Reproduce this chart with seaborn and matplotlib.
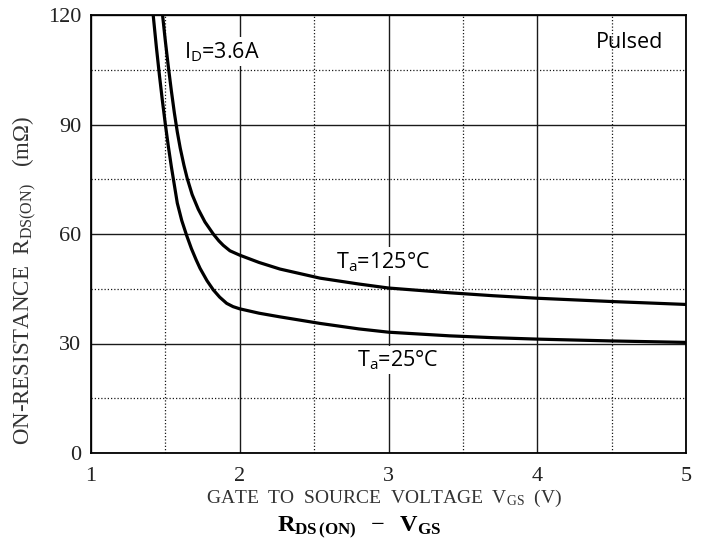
import matplotlib
matplotlib.use("Agg")
import matplotlib.pyplot as plt
import seaborn as sns
import pandas as pd

# Gate-source voltage (V) and on-resistance (mOhm), I_D = 3.6 A, pulsed
vgs_25 = [1.418, 1.440, 1.460, 1.480, 1.500, 1.520, 1.540, 1.560, 1.580, 1.610,
          1.643, 1.675, 1.706, 1.733, 1.780, 1.822, 1.865, 1.912, 1.955, 2.000,
          2.130, 2.270, 2.540, 2.800, 3.000, 3.410, 3.700, 4.000, 4.500, 5.000]
rds_25 = [120, 111, 103.5, 96.5, 90, 84, 78.5, 73.5, 68.5, 63.7,
          59.6, 56.0, 53.0, 50.6, 47.2, 44.7, 42.7, 41.0, 40.1, 39.5,
          38.3, 37.3, 35.5, 34.0, 33.1, 32.1, 31.6, 31.2, 30.7, 30.3]

vgs_125 = [1.481, 1.500, 1.520, 1.540, 1.560, 1.580, 1.600, 1.625, 1.647, 1.680,
           1.721, 1.766, 1.822, 1.860, 1.889, 1.934, 2.000, 2.130, 2.270, 2.540,
           2.800, 3.000, 3.410, 3.700, 4.000, 4.500, 5.000]
rds_125 = [120, 112.8, 105.8, 99.3, 93.3, 88, 83.5, 78.8, 75.2, 70.8,
           66.8, 63.3, 60, 58.1, 56.9, 55.4, 54.2, 52.2, 50.4, 47.9,
           46.3, 45.2, 43.9, 43.1, 42.4, 41.5, 40.7]

x_major = [1, 2, 3, 4, 5]
x_minor = [1.5, 2.5, 3.5, 4.5]
y_major = [0, 30, 60, 90, 120]
y_minor = [15, 45, 75, 105]

df = pd.concat([
    pd.DataFrame({"vgs": vgs_25, "rds": rds_25, "temp": "25"}),
    pd.DataFrame({"vgs": vgs_125, "rds": rds_125, "temp": "125"}),
])

sns.set_style("white")
plt.rcParams["font.family"] = ["Liberation Serif", "DejaVu Serif"]
plt.rcParams["mathtext.fontset"] = "custom"
plt.rcParams["mathtext.rm"] = "Liberation Serif"
plt.rcParams["mathtext.it"] = "Liberation Serif:italic"
plt.rcParams["mathtext.bf"] = "Liberation Serif:bold"
plt.rcParams["mathtext.sf"] = "Open Sans"

fig = plt.figure(figsize=(7.05, 5.44), dpi=100)
ax = fig.add_axes([91 / 705, 91 / 544, 595 / 705, 438 / 544])

sns.lineplot(data=df, x="vgs", y="rds", hue="temp", units="temp", estimator=None,
             palette=["black", "black"], linewidth=2.3, legend=False, ax=ax)

ax.set_xlim(1, 5)
ax.set_ylim(0, 120)
ax.set_xticks(x_major)
ax.set_xticks(x_minor, minor=True)
ax.set_yticks(y_major)
ax.set_yticks(y_minor, minor=True)
ax.set_xticklabels([str(v) for v in x_major])
ax.set_yticklabels([str(v) for v in y_major])
ax.tick_params(which="both", length=0)
ax.tick_params(axis="x", pad=10, labelsize=16, labelcolor="#222222")
ax.tick_params(axis="y", pad=7, labelsize=16, labelcolor="#222222")

ax.grid(which="major", color="#1a1a1a", linewidth=1.0, linestyle="-")
ax.grid(which="minor", color="#1a1a1a", linewidth=0.9, linestyle=(0, (1, 1.6)))
ax.set_axisbelow(True)
for sp in ax.spines.values():
    sp.set_color("black")
    sp.set_linewidth(1.3)

ax.set_xlabel(r"GATE  TO  SOURCE  VOLTAGE  V$_{\mathrm{GS}}$  (V)",
              fontsize=14, color="#333333")
ax.xaxis.set_label_coords(0.492, -0.080)
ax.set_ylabel(r"ON-RESISTANCE  R$_{\mathrm{DS(ON)}}$   (m$\Omega$)",
              fontsize=16.5, color="#333333")
ax.yaxis.set_label_coords(-0.088, 0.393)

ann = dict(fontfamily=["Open Sans", "DejaVu Sans"], fontsize=15.5, color="black",
           ha="center", va="center")
box = dict(facecolor="white", edgecolor="none", pad=2)
ax.text(1.88, 110, r"I$_\mathsf{D}$=3.6A", bbox=box, **ann)
ax.text(4.62, 112.5, "Pulsed", **ann)
ax.text(2.96, 52.5, r"T$_\mathsf{a}$=125°C", bbox=box, **ann)
ax.text(3.06, 25.5, r"T$_\mathsf{a}$=25°C", bbox=box, **ann)

fig.text(0.509, 0.022, r"$\mathbf{R_{DS\,(ON)}}\ \ -\ \ \mathbf{V_{GS}}$",
         fontsize=17.5, ha="center", va="baseline", color="black")

fig.savefig("out.png", dpi=100, facecolor="white")
